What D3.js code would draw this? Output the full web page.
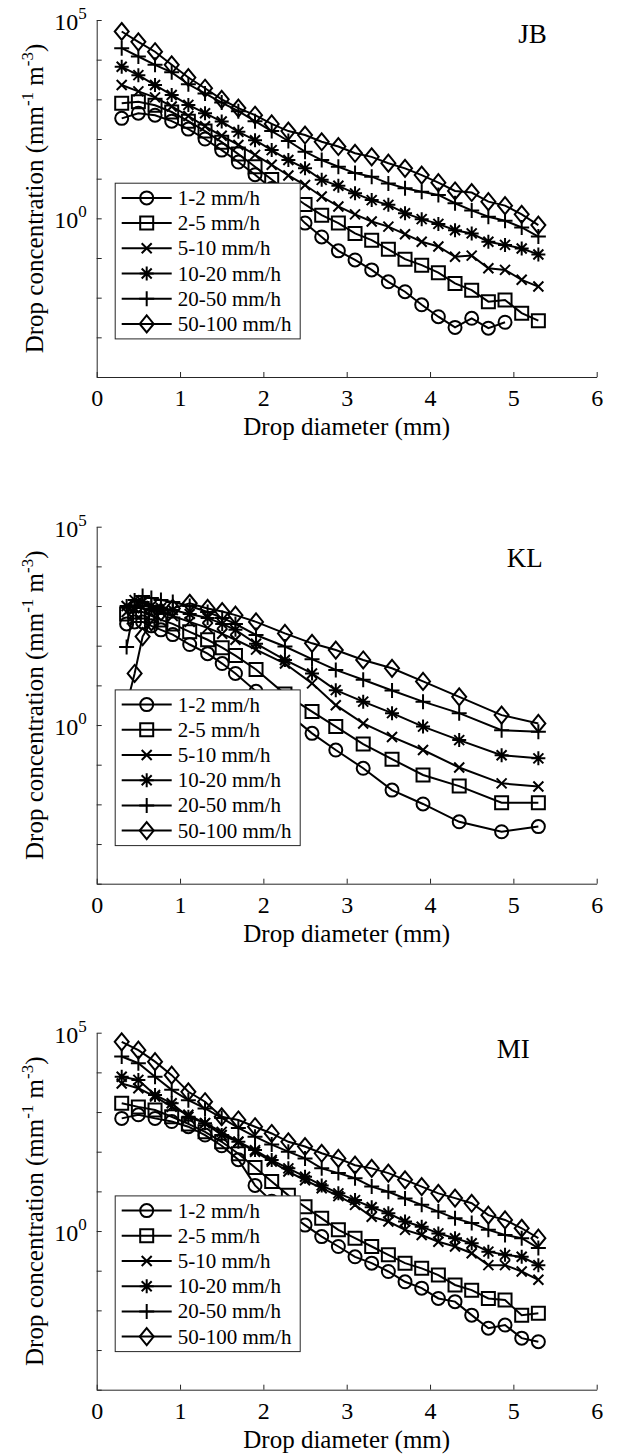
<!DOCTYPE html>
<html>
<head>
<meta charset="utf-8">
<script src="https://cdn.jsdelivr.net/npm/d3@7/dist/d3.min.js"></script>
<style>
body { margin: 0; background: #fff; }
text { font-family: "Liberation Serif", "Times New Roman", serif; fill: #000; }
</style>
</head>
<body>
<div id="chart"></div>
<script>
// drop diameter bin centres (mm)
var dvd_diam = [0.3, 0.5, 0.7, 0.9, 1.1, 1.3, 1.5, 1.7, 1.9, 2.1, 2.3, 2.5, 2.7,
                2.9, 3.1, 3.3, 3.5, 3.7, 3.9, 4.1, 4.3, 4.5, 4.7, 4.9, 5.1, 5.3];
var jwd_diam = [0.359, 0.455, 0.551, 0.656, 0.771, 0.913, 1.116, 1.331, 1.506, 1.665,
                1.912, 2.259, 2.584, 2.869, 3.198, 3.544, 3.916, 4.35, 4.859, 5.3];

var rain_classes = ["1-2 mm/h", "2-5 mm/h", "5-10 mm/h", "10-20 mm/h", "20-50 mm/h", "50-100 mm/h"];
var y_ticks = [1e-4, 1e-3, 1e-2, 1e-1, 1e0, 1e1, 1e2, 1e3, 1e4, 1e5];
var y_tick_labels = { "1": "0", "100000": "5" };
var x_ticks = [0, 1, 2, 3, 4, 5, 6];

// log10 of drop concentration (mm-1 m-3)
var jb_1_2 = [2.52, 2.65, 2.6, 2.45, 2.25, 2.0, 1.72, 1.42, 1.1, 0.75, 0.3, -0.12, -0.47,
              -0.82, -1.05, -1.3, -1.6, -1.85, -2.18, -2.48, -2.75, -2.52, -2.77, -2.62];
var jb_2_5 = [2.9, 2.94, 2.85, 2.68, 2.45, 2.2, 1.92, 1.62, 1.3, 0.98, 0.65, 0.35, 0.08,
              -0.12, -0.38, -0.55, -0.78, -1.03, -1.18, -1.37, -1.64, -1.81, -2.1, -2.06, -2.39, -2.58];
var jb_5_10 = [3.36, 3.2, 3.05, 2.82, 2.58, 2.32, 2.08, 1.85, 1.6, 1.35, 1.08, 0.84, 0.55,
               0.3, 0.1, -0.08, -0.21, -0.4, -0.59, -0.71, -0.97, -0.94, -1.26, -1.3, -1.55, -1.72];
var jb_10_20 = [3.82, 3.61, 3.36, 3.11, 2.86, 2.65, 2.44, 2.18, 1.97, 1.72, 1.47, 1.26, 0.97,
                0.82, 0.63, 0.46, 0.34, 0.13, -0.02, -0.14, -0.3, -0.38, -0.59, -0.67, -0.76, -0.91];
var jb_20_50 = [4.29, 4.08, 3.87, 3.68, 3.38, 3.15, 2.92, 2.7, 2.45, 2.2, 1.95, 1.68, 1.47,
                1.3, 1.14, 1.05, 0.88, 0.76, 0.67, 0.59, 0.38, 0.2, 0.04, -0.06, -0.23, -0.46];
var jb_50_100 = [4.71, 4.45, 4.2, 3.87, 3.55, 3.28, 3.0, 2.78, 2.6, 2.38, 2.2, 2.1, 1.93,
                 1.81, 1.64, 1.55, 1.39, 1.26, 1.09, 0.9, 0.69, 0.65, 0.42, 0.32, 0.1, -0.17];

var kl_1_2 = [2.55, 2.6, 2.6, 2.5, 2.4, 2.28, 2.03, 1.8, 1.55, 1.3,
              0.85, 0.35, -0.21, -0.63, -1.09, -1.64, -1.99, -2.44, -2.69, -2.56];
var kl_2_5 = [2.8, 2.85, 2.85, 2.75, 2.65, 2.55, 2.35, 2.15, 1.95, 1.75,
              1.4, 0.78, 0.34, -0.04, -0.48, -0.86, -1.26, -1.54, -1.96, -1.96];
var kl_5_10 = [2.85, 2.95, 2.95, 2.9, 2.85, 2.75, 2.6, 2.45, 2.3, 2.15,
               1.9, 1.55, 1.05, 0.5, 0.04, -0.3, -0.63, -1.07, -1.47, -1.55];
var kl_10_20 = [3.0, 3.15, 3.1, 3.0, 2.95, 2.9, 2.8, 2.7, 2.55, 2.4,
                2.05, 1.64, 1.3, 0.88, 0.59, 0.3, -0.04, -0.38, -0.76, -0.84];
var kl_20_50 = [1.97, 3.0, 3.25, 3.2, 3.15, 3.1, 3.0, 2.85, 2.7, 2.55,
                2.27, 1.98, 1.66, 1.39, 1.14, 0.87, 0.59, 0.3, -0.13, -0.17];
var kl_50_100 = [0.5, 1.3, 2.23, 2.6, 2.85, 2.94, 3.07, 2.94, 2.86, 2.77,
                 2.6, 2.31, 2.06, 1.89, 1.64, 1.43, 1.1, 0.71, 0.25, 0.04];

var mi_1_2 = [2.84, 2.93, 2.84, 2.76, 2.63, 2.42, 2.15, 1.8, 1.15, 0.75, 0.45, 0.15, -0.14,
              -0.39, -0.65, -0.81, -1.02, -1.28, -1.44, -1.7, -1.78, -2.12, -2.45, -2.37, -2.7, -2.79];
var mi_2_5 = [3.22, 3.13, 3.05, 2.88, 2.7, 2.5, 2.25, 1.95, 1.6, 1.25, 0.9, 0.61, 0.32,
              0.03, -0.18, -0.39, -0.6, -0.81, -0.94, -1.11, -1.36, -1.49, -1.7, -1.74, -2.12, -2.07];
var mi_5_10 = [3.72, 3.6, 3.39, 3.13, 2.93, 2.72, 2.5, 2.25, 2.0, 1.75, 1.5, 1.28, 1.08,
               0.88, 0.66, 0.36, 0.24, 0.03, -0.1, -0.27, -0.39, -0.56, -0.86, -0.86, -1.02, -1.23];
var mi_10_20 = [3.89, 3.81, 3.43, 3.22, 2.88, 2.72, 2.42, 2.25, 2.04, 1.79, 1.58, 1.37, 1.15,
                0.95, 0.78, 0.6, 0.45, 0.24, 0.11, -0.06, -0.18, -0.31, -0.52, -0.6, -0.65, -0.86];
var mi_20_50 = [4.4, 4.23, 3.89, 3.56, 3.3, 3.09, 2.85, 2.6, 2.38, 2.18, 2.0, 1.83, 1.58,
                1.46, 1.33, 1.12, 0.99, 0.82, 0.66, 0.49, 0.32, 0.2, 0.03, -0.1, -0.18, -0.43];
var mi_50_100 = [4.77, 4.56, 4.27, 3.93, 3.51, 3.26, 2.88, 2.8, 2.63, 2.46, 2.25, 2.13, 1.96,
                 1.83, 1.66, 1.58, 1.46, 1.29, 1.12, 0.95, 0.83, 0.7, 0.4, 0.28, 0.07, -0.18];

var marker_types = ["circle", "square", "cross", "asterisk", "plus", "diamond"];

function marker_path(type) {
    switch (type) {
        case "circle":
            return "M6.5,0A6.5,6.5 0 1,1 -6.5,0A6.5,6.5 0 1,1 6.5,0Z";
        case "square":
            return "M-6.5,-6.5H6.5V6.5H-6.5Z";
        case "cross":
            return "M-5,-5L5,5M-5,5L5,-5";
        case "asterisk":
            return "M0,-7V7M-7,0H7M-5,-5L5,5M-5,5L5,-5";
        case "plus":
            return "M0,-7.5V7.5M-7.5,0H7.5";
        case "diamond":
            return "M0,-8.5L7,0L0,8.5L-7,0Z";
    }
}

var margin = { left: 96.7 };
var width = 500;
var height = 357;

var svg = d3.select("#chart")
    .append("svg")
    .attr("width", 617)
    .attr("height", 1455);

function draw_panel(top, name, diam, series, label_pos) {
    var g = svg.append("g")
        .attr("transform", "translate(" + margin.left + "," + top + ")");

    var x = d3.scaleLinear().domain([0, 6]).range([0, width]);
    var y = d3.scaleLog().domain([1e-4, 1e5]).range([height, 0]);

    // axes (MATLAB style, ticks inside, no box)
    var xAxis = g.append("g")
        .attr("transform", "translate(0," + height + ")")
        .call(d3.axisBottom(x).tickValues(x_ticks).tickFormat(d3.format("d"))
            .tickSizeInner(-5).tickSizeOuter(0).tickPadding(12));
    xAxis.select(".domain").attr("stroke", "#262626");
    xAxis.selectAll(".tick line").attr("stroke", "#262626");
    xAxis.selectAll(".tick text")
        .style("font-family", "Liberation Serif")
        .style("font-size", "24px")
        .attr("fill", "#262626")
        .attr("dy", "0.71em");

    var yAxis = g.append("g")
        .call(d3.axisLeft(y).tickValues(y_ticks).tickSizeInner(-5).tickSizeOuter(0).tickFormat(""));
    yAxis.select(".domain").attr("stroke", "#262626");
    yAxis.selectAll(".tick line").attr("stroke", "#262626");

    var labelled = y_ticks.filter(function(t) { return y_tick_labels[String(t)] !== undefined; });
    var tl = g.selectAll("ylab")
        .data(labelled)
        .enter()
        .append("text")
        .attr("x", -10)
        .attr("y", function(d) { return y(d) + 10; })
        .attr("text-anchor", "end")
        .style("font-size", "24px")
        .attr("fill", "#262626");
    tl.append("tspan").text("10");
    tl.append("tspan")
        .attr("dy", -11)
        .style("font-size", "17px")
        .text(function(d) { return y_tick_labels[String(d)]; });

    // axis titles
    g.append("text")
        .attr("x", width / 2)
        .attr("y", height + 58)
        .attr("text-anchor", "middle")
        .style("font-size", "25px")
        .attr("fill", "#262626")
        .text("Drop diameter (mm)");

    var yt = g.append("text")
        .attr("transform", "translate(-54," + (height / 2) + ") rotate(-90)")
        .attr("text-anchor", "middle")
        .style("font-size", "25px")
        .attr("fill", "#262626");
    yt.append("tspan").text("Drop concentration (mm");
    yt.append("tspan").attr("dy", -10).style("font-size", "17px").text("-1");
    yt.append("tspan").attr("dy", 10).text(" m");
    yt.append("tspan").attr("dy", -10).style("font-size", "17px").text("-3");
    yt.append("tspan").attr("dy", 10).text(")");

    var dataReady = series.map(function(vals, i) {
        return {
            name: rain_classes[i],
            marker: marker_types[i],
            values: vals.map(function(v, j) { return { d: diam[j], c: Math.pow(10, v) }; })
        };
    });

    var line = d3.line()
        .x(function(d) { return x(d.d); })
        .y(function(d) { return y(d.c); });

    var sg = g.selectAll("series")
        .data(dataReady)
        .enter()
        .append("g");

    sg.append("path")
        .attr("d", function(d) { return line(d.values); })
        .attr("fill", "none")
        .attr("stroke", "#000")
        .attr("stroke-width", 2);

    sg.each(function(s) {
        d3.select(this).selectAll("mk")
            .data(s.values)
            .enter()
            .append("path")
            .attr("transform", function(d) { return "translate(" + x(d.d) + "," + y(d.c) + ")"; })
            .attr("d", marker_path(s.marker))
            .attr("fill", "none")
            .attr("stroke", "#000")
            .attr("stroke-width", 2);
    });

    // site label
    g.append("text")
        .attr("x", x(label_pos[0]))
        .attr("y", y(label_pos[1]))
        .style("font-size", "27px")
        .text(name);

    // legend
    var lg = g.append("g").attr("transform", "translate(18," + (height / 2 - 15.8 + 0.5) + ")");
    lg.append("rect")
        .attr("x", 0.5)
        .attr("y", 0)
        .attr("width", 185)
        .attr("height", 155.7)
        .attr("fill", "#fff")
        .attr("stroke", "#262626")
        .attr("stroke-width", 1);

    var row = lg.selectAll("legrow")
        .data(dataReady)
        .enter()
        .append("g")
        .attr("transform", function(d, i) { return "translate(0," + (14.7 + i * 25.2) + ")"; });
    row.append("line")
        .attr("x1", 7).attr("x2", 57)
        .attr("stroke", "#000")
        .attr("stroke-width", 2);
    row.append("path")
        .attr("transform", "translate(32,0)")
        .attr("d", function(d) { return marker_path(d.marker); })
        .attr("fill", "none")
        .attr("stroke", "#000")
        .attr("stroke-width", 2);
    row.append("text")
        .attr("x", 63)
        .attr("y", 7)
        .style("font-size", "21px")
        .text(function(d) { return d.name; });
}

draw_panel(20, "JB", dvd_diam, [jb_1_2, jb_2_5, jb_5_10, jb_10_20, jb_20_50, jb_50_100], [5.06, Math.pow(10, 4.41)]);
draw_panel(526.7, "KL", jwd_diam, [kl_1_2, kl_2_5, kl_5_10, kl_10_20, kl_20_50, kl_50_100], [4.92, Math.pow(10, 3.98)]);
draw_panel(1032.7, "MI", dvd_diam, [mi_1_2, mi_2_5, mi_5_10, mi_10_20, mi_20_50, mi_50_100], [4.8, Math.pow(10, 4.35)]);
</script>
</body>
</html>
